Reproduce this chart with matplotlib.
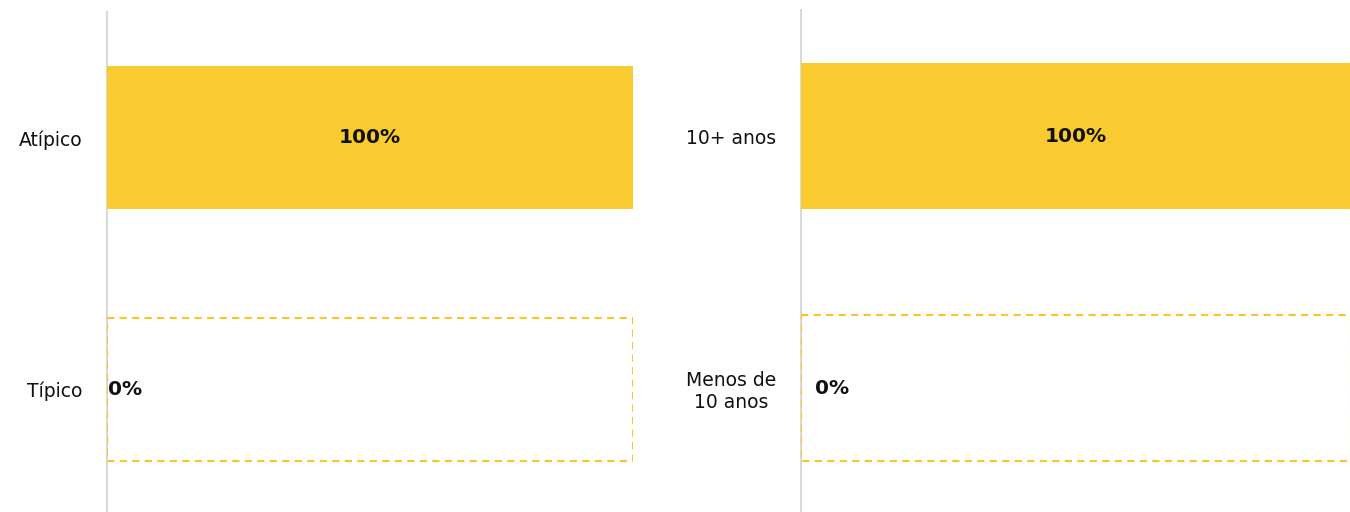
import matplotlib.pyplot as plt

# data
left_cats = ['Atípico', 'Típico']
left_vals = [100, 0]
right_cats = ['10+ anos', 'Menos de\n10 anos']
right_vals = [100, 0]

bar_color = '#F9CB31'
edge_color = '#F9C52A'
axis_color = '#D9D9D9'
text_color = '#111111'

plt.rcParams['font.family'] = ['DejaVu Sans']

fig = plt.figure(figsize=(13.5, 5.12), dpi=100)
W, H = 1350, 512

ax1 = fig.add_axes([107 / W, -3 / H, (633 - 107) / W, (512 - 12 + 3) / H])
ax2 = fig.add_axes([801 / W, -2 / H, (1351 - 801) / W, (512 - 10 + 2) / H])


def draw(ax, cats, vals, height, zero_dx):
    y = list(range(len(cats)))
    ax.barh(y, vals, height=height, color=bar_color, zorder=2)
    rest = [100 - v for v in vals]
    for yi, v, r in zip(y, vals, rest):
        if r > 0:
            ax.barh(yi, r, left=v, height=height, fill=False,
                    edgecolor=edge_color, linestyle=(0, (3.5, 2.5)),
                    linewidth=1.5, zorder=1)
    for yi, v in zip(y, vals):
        if v > 0:
            ax.text(v / 2, yi, f'{v}%', ha='center', va='center',
                    fontsize=14.5, fontweight='bold', color=text_color)
        else:
            ax.annotate(f'{v}%', (0, yi), xytext=(zero_dx, 0),
                        textcoords='offset points', ha='left', va='center',
                        fontsize=14.5, fontweight='bold', color=text_color)
    ax.set_xlim(0, 100)
    ax.set_ylim(len(cats) - 0.5, -0.5)
    ax.set_yticks(y)
    ax.set_yticklabels(cats, fontsize=13.5, color=text_color)
    for lbl in ax.get_yticklabels():
        lbl.set_multialignment('center')
    ax.tick_params(axis='y', length=0, pad=18)
    ax.set_xticks([])
    for s in ['top', 'right', 'bottom']:
        ax.spines[s].set_visible(False)
    ax.spines['left'].set_color(axis_color)
    ax.spines['left'].set_linewidth(1.5)
    ax.spines['left'].set_zorder(0)
    ax.patch.set_alpha(0)


draw(ax1, left_cats, left_vals, 0.57, 0.5)
draw(ax2, right_cats, right_vals, 0.58, 10)

plt.savefig('out.png', dpi=100)
